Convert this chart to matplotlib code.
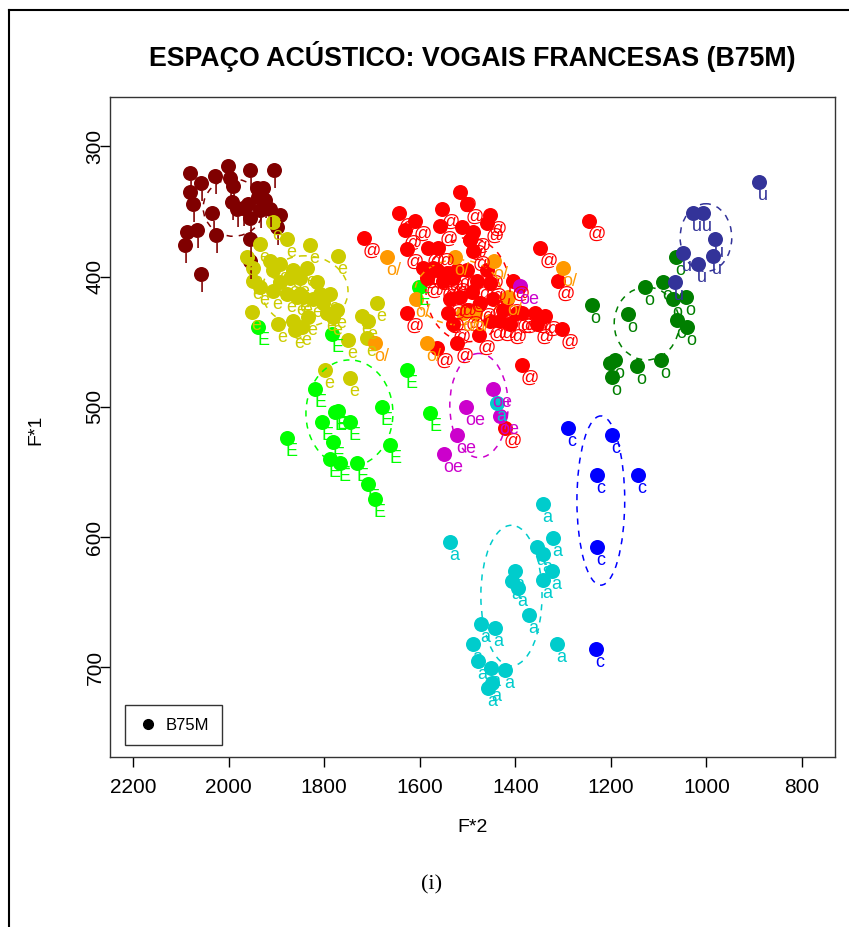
import matplotlib
matplotlib.use("Agg")
import matplotlib.pyplot as plt
from matplotlib.patches import Ellipse
from matplotlib.lines import Line2D

plt.rcParams['font.family'] = ['Liberation Sans', 'DejaVu Sans']

# F*2 / F*1 values per vowel
i_f2 = [2081, 2058, 2081, 2074, 2028, 2001, 1997, 1991, 1955, 1905, 1940, 1928, 1938, 1993, 1970, 2034,
        1955, 1934, 1913, 1892, 1899, 2087, 2066, 2026, 2091, 1955, 1955, 2058, 1959, 1982, 1924]
i_f1 = [320, 328, 335, 344, 323, 315, 324, 330, 318, 318, 332, 332, 339, 343, 347, 351,
        355, 349, 348, 353, 362, 366, 364, 368, 376, 371, 388, 398, 344, 348, 341]

e_f2 = [1961, 1934, 1907, 1878, 1830, 1771, 1913, 1892, 1865, 1836, 1815, 1850, 1878, 1892, 1809,
        1788, 1949, 1907, 1871, 1850, 1823, 1802, 1773, 1781, 1951, 1896, 1865, 1861, 1846, 1834,
        1689, 1721, 1708, 1710, 1750, 1794, 1907, 1934, 1949, 1798, 1746, 1857, 1844]
e_f1 = [385, 375, 358, 371, 376, 384, 388, 390, 395, 393, 404, 413, 413, 404, 413,
        413, 403, 395, 401, 401, 417, 420, 426, 431, 427, 436, 434, 441, 439, 431,
        420, 430, 434, 447, 449, 428, 411, 408, 393, 472, 478, 416, 416]

E_f2 = [1819, 1777, 1771, 1804, 1746, 1679, 1781, 1878, 1662, 1788, 1767, 1731, 1708, 1694,
        1627, 1578, 1938, 1783, 1601]
E_f1 = [486, 504, 503, 512, 512, 500, 527, 524, 529, 540, 543, 543, 559, 571,
        472, 505, 439, 444, 408]

at_f2 = [1516, 1643, 1553, 1501, 1453, 1610, 1631, 1557, 1511, 1488, 1459, 1627, 1583, 1562, 1495,
         1488, 1348, 1246, 1572, 1543, 1551, 1530, 1501, 1480, 1459, 1453, 1405, 1311, 1627, 1541,
         1530, 1426, 1396, 1386, 1359, 1338, 1411, 1355, 1302, 1522, 1564, 1476, 1386, 1432, 1453,
         1447, 1417, 1516, 1537, 1491, 1474, 1501, 1522, 1564, 1585, 1593, 1422, 1717]
at_f1 = [335, 351, 348, 344, 353, 357, 364, 361, 362, 366, 359, 379, 378, 378, 372,
         380, 378, 357, 393, 397, 403, 401, 395, 403, 395, 405, 403, 403, 428, 428,
         436, 426, 428, 428, 428, 430, 436, 436, 440, 451, 455, 445, 468, 434, 434,
         417, 417, 416, 417, 412, 420, 426, 395, 395, 401, 393, 516, 370]

os_f2 = [1668, 1526, 1445, 1300, 1484, 1509, 1585, 1694, 1608, 1415]
os_f1 = [385, 385, 388, 393, 428, 428, 451, 451, 417, 416]

oe_f2 = [1447, 1503, 1432, 1522, 1549, 1390]
oe_f1 = [486, 500, 507, 522, 536, 407]

a_f2 = [1342, 1537, 1321, 1355, 1342, 1323, 1342, 1401, 1407, 1394, 1371, 1313, 1472, 1443,
        1488, 1478, 1451, 1422, 1449, 1457, 1438]
a_f1 = [575, 604, 601, 608, 613, 626, 633, 626, 634, 639, 660, 682, 667, 670,
        682, 695, 701, 702, 712, 716, 497]

c_f2 = [1290, 1198, 1229, 1143, 1229, 1231]
c_f1 = [516, 522, 552, 552, 608, 686]

o_f2 = [1064, 1129, 1091, 1164, 1062, 1041, 1043, 1070, 1095, 1145, 1202, 1191, 1198, 1240]
o_f1 = [385, 408, 404, 429, 433, 439, 416, 417, 464, 469, 466, 464, 477, 422]

u_f2 = [890, 1028, 1007, 982, 986, 1018, 1049, 1066]
u_f1 = [327, 351, 351, 371, 384, 390, 382, 404]

vowels = ['i', 'e', 'E', '@', 'o/', 'oe', 'a', 'c', 'o', 'u']
colors = ['#800000', '#CCCC00', '#00FF00', '#FF0000', '#FF9900',
          '#CC00CC', '#00CCCC', '#0000FF', '#007F00', '#333399']
f2_data = [i_f2, e_f2, E_f2, at_f2, os_f2, oe_f2, a_f2, c_f2, o_f2, u_f2]
f1_data = [i_f1, e_f1, E_f1, at_f1, os_f1, oe_f1, a_f1, c_f1, o_f1, u_f1]

# dispersion ellipses: centre and half-axes in F*2 / F*1 units
ell_f2 = [1990, 1840, 1747, 1499, 1520, 1476, 1408, 1221, 1125, 1001]
ell_f1 = [347, 411, 505, 410, 412, 499, 645, 572, 436, 370]
ell_r2 = [63, 90, 91, 88, 90, 61, 64, 50, 68, 54]
ell_r1 = [22, 27, 41, 40, 25, 40, 54, 65, 28, 26]

x_ticks = [2200, 2000, 1800, 1600, 1400, 1200, 1000, 800]
y_ticks = [300, 400, 500, 600, 700]

W, H = 849, 927
fig = plt.figure(figsize=(W / 100, H / 100), dpi=100)
ax = fig.add_axes([110 / W, 1 - 757 / H, 725 / W, 660 / H])

# points first, then ellipses, then the labels on top
for f2, f1, col in zip(f2_data, f1_data, colors):
    ax.plot(f2, f1, 'o', color=col, markersize=10.8, markeredgewidth=0, zorder=2)

for cx, cy, r2, r1, col in zip(ell_f2, ell_f1, ell_r2, ell_r1, colors):
    ax.add_patch(Ellipse((cx, cy), 2 * r2, 2 * r1, fill=False, edgecolor=col,
                         linestyle=(0, (4, 4)), linewidth=1.1, zorder=3))

for f2, f1, col, lab in zip(f2_data, f1_data, colors, vowels):
    for x, y in zip(f2, f1):
        ax.annotate(lab, (x, y), xytext=(-1, -5), textcoords='offset pixels',
                    ha='left', va='top', fontsize=13, color=col, zorder=4)

ax.set_xlim(2248, 731)
ax.set_ylim(769, 262)
ax.set_xticks(x_ticks)
ax.set_yticks(y_ticks)
ax.tick_params(direction='out', length=7, width=1, labelsize=15)
ax.tick_params(axis='x', pad=8)
ax.tick_params(axis='y', pad=-3)
for lbl in ax.get_yticklabels():
    lbl.set_rotation(90)
    lbl.set_va('center')
for sp in ax.spines.values():
    sp.set_linewidth(1.0)
    sp.set_color('#333333')

leg = ax.legend(handles=[Line2D([], [], marker='o', color='black', linestyle='None', markersize=7)],
                labels=['B75M'], loc='lower left', bbox_to_anchor=(0.021, 0.018),
                borderaxespad=0, frameon=True, fancybox=False, edgecolor='black', fontsize=12,
                borderpad=0.75, handletextpad=0.5, handlelength=1.2)
leg.get_frame().set_linewidth(1.0)

fig.text(472.5 / W, 1 - 57 / H, 'ESPAÇO ACÚSTICO: VOGAIS FRANCESAS (B75M)',
         ha='center', va='center', fontsize=19.3, fontweight='bold')
fig.text(472.5 / W, 1 - 828 / H, 'F*2', ha='center', va='center', fontsize=14)
fig.text(36 / W, 1 - 430 / H, 'F*1', ha='center', va='center', fontsize=14, rotation=90)
fig.text(432 / W, 1 - 885 / H, '(i)', ha='center', va='center', fontsize=16,
         family=['Liberation Serif', 'DejaVu Serif'])

# page frame lines of the source document
fig.add_artist(Line2D([9 / W, 9 / W], [0, 1 - 10 / H], transform=fig.transFigure,
                      color='black', linewidth=1.5))
fig.add_artist(Line2D([9 / W, 1], [1 - 10 / H, 1 - 10 / H], transform=fig.transFigure,
                      color='black', linewidth=1.5))

fig.savefig('out.png', dpi=100)
